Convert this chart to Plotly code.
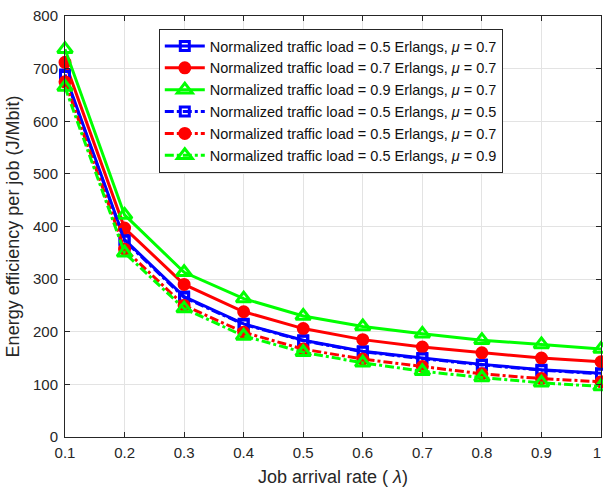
import plotly.graph_objects as go

x_rate = [0.1, 0.2, 0.3, 0.4, 0.5, 0.6, 0.7, 0.8, 0.9, 1.0]

load05_mu07 = [689, 375, 267, 215, 184, 163, 150, 138, 128, 121]
load07_mu07 = [712, 397, 290, 238, 206, 185, 171, 160, 150, 143]
load09_mu07 = [737, 422, 313, 263, 230, 210, 196, 184, 176, 167]
load05_mu05 = [686, 373, 265, 214, 183, 162, 149, 137, 127, 120]
load05_mu07b = [675, 357, 250, 199, 167, 148, 134, 120, 111, 105]
load05_mu09 = [665, 350, 244, 192, 161, 141, 125, 113, 103, 96]

x_ticks = [0.1, 0.2, 0.3, 0.4, 0.5, 0.6, 0.7, 0.8, 0.9, 1.0]
x_ticklabels = ["0.1", "0.2", "0.3", "0.4", "0.5", "0.6", "0.7", "0.8", "0.9", "1\u00a0\u00a0"]

names = [
    "Normalized traffic load = 0.5 Erlangs, <i>μ</i> = 0.7",
    "Normalized traffic load = 0.7 Erlangs, <i>μ</i> = 0.7",
    "Normalized traffic load = 0.9 Erlangs, <i>μ</i> = 0.7",
    "Normalized traffic load = 0.5 Erlangs, <i>μ</i> = 0.5",
    "Normalized traffic load = 0.5 Erlangs, <i>μ</i> = 0.7",
    "Normalized traffic load = 0.5 Erlangs, <i>μ</i> = 0.9",
]
series = [load05_mu07, load07_mu07, load09_mu07, load05_mu05, load05_mu07b, load05_mu09]
colors = ["#0000FF", "#FF0000", "#00FF00", "#0000FF", "#FF0000", "#00FF00"]
dashes = ["solid", "solid", "solid", "dashdot", "dashdot", "dashdot"]
symbols = ["square-open", "circle", "triangle-up-open", "square-open", "circle", "triangle-up-open"]
sizes = [9, 10, 13, 9, 10, 13]

FONT = "Liberation Sans, Arial, Helvetica, sans-serif"

fig = go.Figure()
for y, n, c, d, s, sz in zip(series, names, colors, dashes, symbols, sizes):
    fig.add_trace(go.Scatter(
        x=x_rate, y=y, name=n, mode="lines+markers",
        line=dict(color=c, width=3, dash=d),
        marker=dict(symbol=s, size=sz, color=c, line=dict(color=c, width=3)),
        cliponaxis=False,
    ))

axis_common = dict(
    showline=True, linecolor="#262626", linewidth=1, mirror="ticks",
    ticks="inside", ticklen=5, tickcolor="#262626",
    showgrid=True, gridcolor="#e3e3e3", gridwidth=1, zeroline=False,
    automargin=False, ticklabeloverflow="allow",
    tickfont=dict(family=FONT, size=15, color="#262626"),
)

fig.update_layout(
    width=603, height=493,
    margin=dict(l=65, r=2, t=16, b=56),
    paper_bgcolor="white", plot_bgcolor="white",
    font=dict(family=FONT, size=15, color="#262626"),
    xaxis=dict(range=[0.1, 1.0], tickvals=x_ticks, ticktext=x_ticklabels,
               ticklabelstandoff=2,
               title=dict(text="Job arrival rate ( <i>λ</i>)", standoff=10,
                          font=dict(family=FONT, size=18, color="#262626")),
               **axis_common),
    yaxis=dict(range=[0, 800], dtick=100, ticklabelstandoff=3,
               title=dict(text="Energy efficiency per job (J/Mbit)", standoff=8,
                          font=dict(family=FONT, size=18, color="#262626")),
               **axis_common),
    legend=dict(x=0.175, y=0.969, xanchor="left", yanchor="top",
                bgcolor="white", bordercolor="#262626", borderwidth=1,
                font=dict(family=FONT, size=14.5, color="#111111"), tracegroupgap=0,
                itemwidth=40),
    showlegend=True,
)

fig.write_html("out.html", config={"displayModeBar": False},
               post_script="document.body.style.margin='0';document.body.style.overflow='hidden';")
